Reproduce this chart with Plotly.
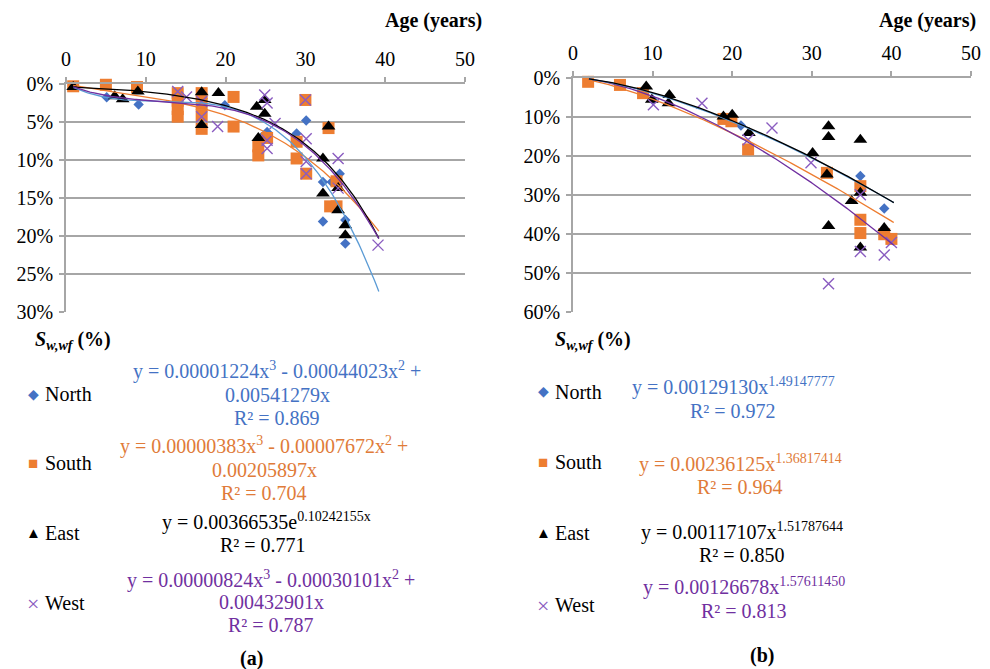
import numpy as np
import plotly.graph_objects as go

# ---------------- data: panel (a) ----------------
a_north_age = [1.0, 5.1, 9.1, 17.0, 19.9, 24.5, 25.2, 28.9, 30.1, 32.2, 33.3, 34.3, 32.2, 35.0, 35.0]
a_north_sw = [0.3, 1.75, 2.7, 2.3, 2.8, 7.0, 6.3, 6.5, 4.8, 12.9, 12.9, 11.8, 18.1, 17.9, 21.0]

a_south_age = [0.9, 5.0, 8.9, 14.0, 14.0, 14.0, 14.0, 17.0, 17.0, 17.0, 17.0, 21.0, 21.0, 24.1, 24.1,
               25.2, 30.0, 28.9, 28.9, 30.1, 32.9, 33.9, 33.1, 33.9]
a_south_sw = [0.3, 0.1, 0.4, 1.2, 2.2, 3.3, 4.3, 1.2, 2.6, 4.1, 5.9, 1.7, 5.6, 8.2, 9.4,
              7.1, 2.1, 7.6, 9.8, 11.8, 5.8, 12.8, 16.1, 16.1]

a_east_age = [0.9, 6.1, 7.1, 9.0, 17.0, 17.0, 19.1, 23.9, 24.9, 24.9, 24.1, 32.9, 32.2, 32.2, 34.1,
              34.1, 35.0, 35.0]
a_east_sw = [0.4, 1.6, 2.0, 1.0, 1.1, 5.4, 1.2, 3.0, 2.1, 3.9, 7.1, 5.6, 9.8, 14.4, 13.7,
             16.6, 18.6, 19.9]

a_west_age = [14.0, 15.1, 17.0, 17.0, 19.0, 24.9, 25.2, 26.2, 25.2, 25.2, 30.0, 30.1, 30.1, 30.1,
              34.1, 34.1, 39.1]
a_west_sw = [1.0, 1.7, 2.3, 4.3, 5.6, 1.45, 2.5, 5.2, 7.4, 8.5, 2.1, 7.2, 10.2, 11.8,
             9.8, 13.7, 21.2]

# ---------------- data: panel (b) ----------------
b_north_age = [2.0, 6.0, 10.0, 21.1, 36.1, 39.1]
b_north_sw = [0.9, 1.9, 5.7, 12.3, 25.2, 33.5]

b_south_age = [1.9, 5.9, 8.8, 18.9, 19.9, 22.0, 31.9, 36.1, 36.1, 36.1, 39.1, 40.0]
b_south_sw = [1.1, 1.9, 4.0, 10.6, 11.2, 18.4, 24.4, 27.8, 36.4, 39.8, 40.1, 41.3]

b_east_age = [9.2, 9.9, 12.1, 12.0, 18.9, 20.0, 22.1, 30.1, 31.9, 32.1, 32.1, 32.1, 35.0, 36.1,
              36.1, 36.1, 39.1]
b_east_sw = [2.3, 5.7, 4.5, 6.6, 10.0, 9.5, 14.2, 19.3, 24.8, 12.5, 15.2, 38.0, 31.6, 15.9,
             29.5, 43.5, 38.5]

b_west_age = [10.1, 16.2, 22.0, 25.0, 29.9, 36.1, 32.1, 36.1, 39.1, 40.0]
b_west_sw = [7.0, 6.6, 15.9, 12.9, 21.8, 30.0, 52.8, 44.5, 45.4, 42.2]

# trendline coefficients (fractions of 1)
a_north_poly = [0.00001224, -0.00044023, 0.00541279]   # x^3, x^2, x
a_south_poly = [0.00000383, -0.00007672, 0.00205897]
a_west_poly = [0.00000824, -0.00030101, 0.00432901]
a_east_exp = [0.00366535, 0.10242155]                    # a * e^(b x)
b_north_pow = [0.00129130, 1.49147777]                   # a * x^b
b_south_pow = [0.00236125, 1.36817414]
b_east_pow = [0.00117107, 1.51787644]
b_west_pow = [0.00126678, 1.57611450]

x_ticks = [0, 10, 20, 30, 40, 50]

# ---------------- styling ----------------
W, H = 990, 669
FONT = "Liberation Serif, Times New Roman, serif"
GRID = "#A6A6A6"
C_N, C_S, C_E, C_W = "#4472C4", "#ED7D31", "#000000", "#8A5CC0"
L_N, L_S, L_E, L_W = "#5B9BD5", "#ED7D31", "#000000", "#7030A0"
T_N, T_S, T_E, T_W = "#4472C4", "#E07B39", "#000000", "#7030A0"


def px(x):
    return x / W


def py(y):
    return 1 - y / H


def poly(c, x):
    return (c[0] * x ** 3 + c[1] * x ** 2 + c[2] * x) * 100


def expo(c, x):
    return c[0] * np.exp(c[1] * x) * 100


def power(c, x):
    return c[0] * x ** c[1] * 100


fig = go.Figure()

markers = dict(
    N=dict(symbol="diamond", size=8, color=C_N),
    S=dict(symbol="square", size=12, color=C_S),
    E=dict(symbol="triangle-up", size=12, color=C_E),
    W=dict(symbol="x-thin", size=11, color=C_W, line=dict(color=C_W, width=1.4)),
)

panels = [
    ("x", "y", [(a_north_age, a_north_sw, "N"), (a_south_age, a_south_sw, "S"),
                (a_east_age, a_east_sw, "E"), (a_west_age, a_west_sw, "W")]),
    ("x2", "y2", [(b_north_age, b_north_sw, "N"), (b_south_age, b_south_sw, "S"),
                  (b_east_age, b_east_sw, "E"), (b_west_age, b_west_sw, "W")]),
]
for xa, ya, series in panels:
    for ages, sw, key in series:
        fig.add_trace(go.Scatter(x=ages, y=sw, mode="markers", marker=markers[key],
                                 xaxis=xa, yaxis=ya, showlegend=False, cliponaxis=False))

# trendlines
xa_line = np.linspace(0.9, 39.2, 200)
xb_line = np.linspace(2.0, 40.3, 200)
lines = [
    ("x", "y", xa_line, poly(a_south_poly, xa_line), L_S),
    ("x", "y", xa_line, poly(a_north_poly, xa_line), L_N),
    ("x", "y", xa_line, expo(a_east_exp, xa_line), L_E),
    ("x", "y", xa_line, poly(a_west_poly, xa_line), L_W),
    ("x2", "y2", xb_line, power(b_south_pow, xb_line), L_S),
    ("x2", "y2", xb_line, power(b_west_pow, xb_line), L_W),
    ("x2", "y2", xb_line, power(b_north_pow, xb_line), L_N),
    ("x2", "y2", xb_line, power(b_east_pow, xb_line), L_E),
]
for xa, ya, xs, ys, col in lines:
    fig.add_trace(go.Scatter(x=xs, y=ys, mode="lines", line=dict(color=col, width=1.3),
                             xaxis=xa, yaxis=ya, showlegend=False, hoverinfo="skip"))

tickfont = dict(family=FONT, size=20, color="black")
xcommon = dict(side="top", range=[0, 50], tickvals=x_ticks, showgrid=False, zeroline=False,
               showline=True, linecolor=GRID, linewidth=1.5, ticks="outside", ticklen=5,
               tickcolor=GRID, tickwidth=1.5, tickfont=tickfont, ticklabelstandoff=3,
               automargin=False)
ycommon = dict(autorange=False, showgrid=True, gridcolor=GRID, gridwidth=1.5, zeroline=False,
               showline=True, linecolor=GRID, linewidth=1.5, ticks="outside", ticklen=5,
               tickcolor=GRID, tickwidth=1.5, tickfont=tickfont, ticksuffix="%",
               ticklabelstandoff=2, automargin=False)

fig.update_layout(
    width=W, height=H, margin=dict(l=0, r=0, t=0, b=0, pad=0, autoexpand=False),
    paper_bgcolor="white", plot_bgcolor="white",
    font=dict(family=FONT, size=20, color="black"),
    xaxis=dict(domain=[px(66), px(465)], anchor="y", **xcommon),
    yaxis=dict(domain=[py(312), py(84)], anchor="x", range=[30, 0], dtick=5, **ycommon),
    xaxis2=dict(domain=[px(573), px(971)], anchor="y2", **xcommon),
    yaxis2=dict(domain=[py(312), py(77.5)], anchor="x2", range=[60, 0], dtick=10, **ycommon),
)

ann = []


def text(x, y, s, color="black", size=20, xanchor="center"):
    ann.append(dict(x=px(x), y=py(y), xref="paper", yref="paper", text=s, showarrow=False,
                    xanchor=xanchor, yanchor="middle",
                    font=dict(family=FONT, size=size, color=color)))


# axis titles
sw_title = "<b><i>S</i></b><sub><b><i>w,wf</i></b></sub><b> (%)</b>"
text(383, 20, "<b>Age (years)</b>", xanchor="left")
text(877, 20, "<b>Age (years)</b>", xanchor="left")
text(33, 340, sw_title, xanchor="left")
text(553, 340, sw_title, xanchor="left")

# legend glyphs and names
glyphs = [("◆", C_N, 14), ("■", C_S, 17), ("▲", C_E, 15), ("×", C_W, 22)]
names = ["North", "South", "East", "West"]
a_rows = [394, 463, 533, 603]
b_rows = [392, 462, 533, 605]
for (g, col, gs), name, ya_, yb_ in zip(glyphs, names, a_rows, b_rows):
    text(33, ya_, g, color=col, size=gs)
    text(43, ya_, name, xanchor="left")
    text(543, yb_, g, color=col, size=gs)
    text(553, yb_, name, xanchor="left")

# equations, panel (a)
text(277, 370, "y = 0.00001224x<sup>3</sup> - 0.00044023x<sup>2</sup> +", T_N)
text(277, 395, "0.00541279x", T_N)
text(277, 418, "R² = 0.869", T_N)
text(264, 445, "y = 0.00000383x<sup>3</sup> - 0.00007672x<sup>2</sup> +", T_S)
text(264, 470, "0.00205897x", T_S)
text(264, 493, "R² = 0.704", T_S)
text(266, 521, "y = 0.00366535e<sup>0.10242155x</sup>", T_E)
text(263, 545, "R² = 0.771", T_E)
text(271, 579, "y = 0.00000824x<sup>3</sup> - 0.00030101x<sup>2</sup> +", T_W)
text(271, 602, "0.00432901x", T_W)
text(271, 625, "R² = 0.787", T_W)

# equations, panel (b)
text(733, 386, "y = 0.00129130x<sup>1.49147777</sup>", T_N)
text(733, 411, "R² = 0.972", T_N)
text(740, 463, "y = 0.00236125x<sup>1.36817414</sup>", T_S)
text(740, 487, "R² = 0.964", T_S)
text(742, 531, "y = 0.00117107x<sup>1.51787644</sup>", T_E)
text(742, 555, "R² = 0.850", T_E)
text(744, 586, "y = 0.00126678x<sup>1.57611450</sup>", T_W)
text(744, 611, "R² = 0.813", T_W)

text(251, 658, "<b>(a)</b>")
text(762, 655, "<b>(b)</b>")

fig.update_layout(annotations=ann)
fig.write_html("out.html")
